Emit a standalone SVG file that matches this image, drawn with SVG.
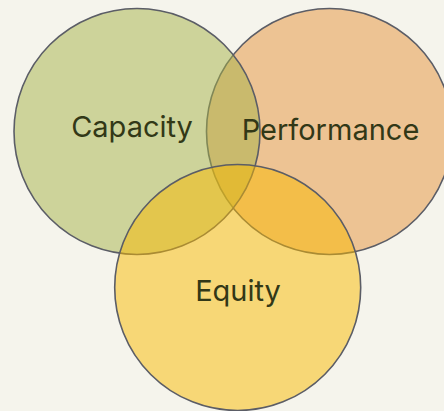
<svg xmlns="http://www.w3.org/2000/svg" width="444" height="411" viewBox="0 0 444 411">
<style>
.c{stroke:#5b5d66;stroke-width:1.6}
.t{font-family:Inter,"Liberation Sans",sans-serif;font-size:29px;fill:#323817;text-anchor:middle}
</style>
<rect width="444" height="411" fill="#f5f4ec"/>
<g id="performance"><circle class="c" cx="329.5" cy="131.5" r="123" fill="rgba(229,146,58,0.5)"/></g>
<g id="capacity"><circle class="c" cx="137" cy="131.5" r="123" fill="rgba(165,178,72,0.5)"/></g>
<g id="equity"><circle class="c" cx="237.7" cy="287.5" r="123" fill="rgba(249,186,0,0.5)"/></g>
<g id="labels">
<text class="t" x="132" y="137">Capacity</text>
<text class="t" x="330.5" y="139.5">Performance</text>
<text class="t" x="238" y="301">Equity</text>
</g>
</svg>
